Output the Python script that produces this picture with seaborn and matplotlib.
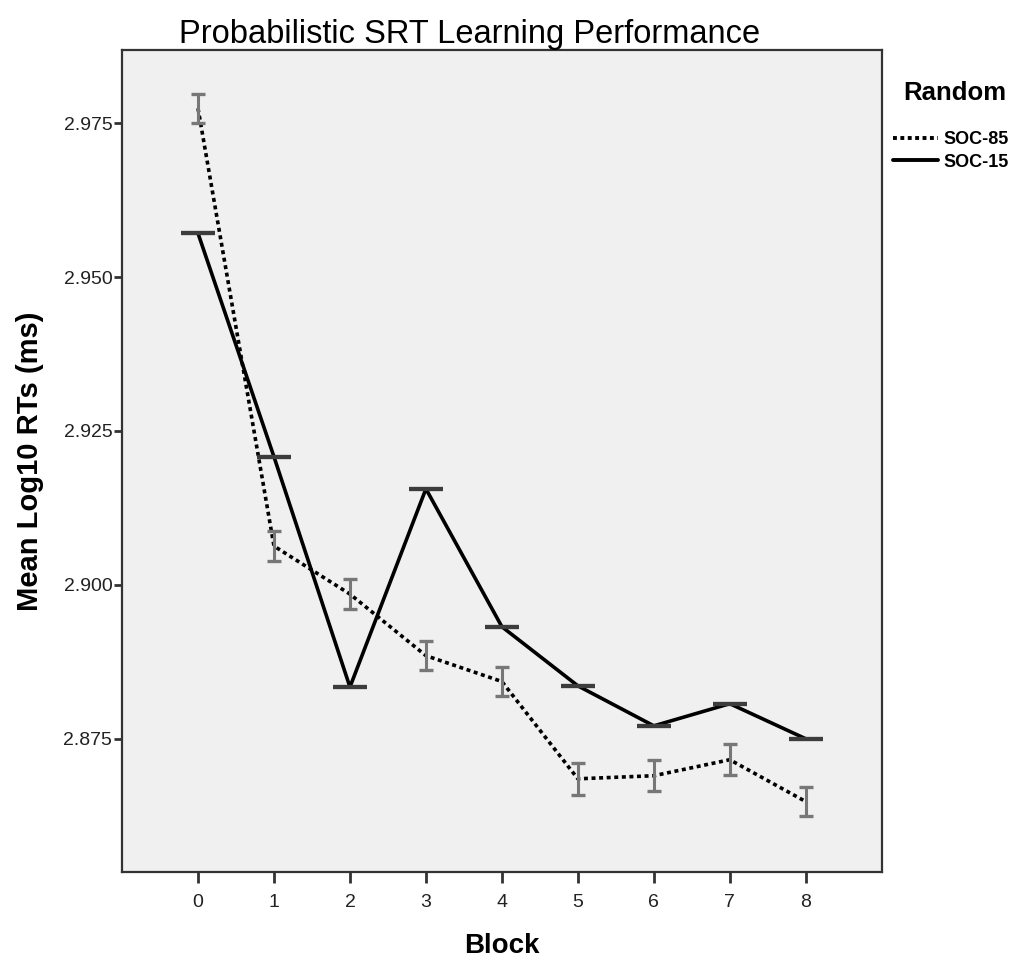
import numpy as np
import pandas as pd
import matplotlib
matplotlib.use("Agg")
import matplotlib.pyplot as plt
import seaborn as sns
from matplotlib.lines import Line2D

blocks = [0, 1, 2, 3, 4, 5, 6, 7, 8]
soc85_mean = [2.9774, 2.9063, 2.8985, 2.8885, 2.8843, 2.8685, 2.8690, 2.8716, 2.8648]
soc85_err = [0.0024, 0.0024, 0.0024, 0.0024, 0.0024, 0.0026, 0.0025, 0.0025, 0.0024]
soc15_mean = [2.9571, 2.9208, 2.8834, 2.9156, 2.8932, 2.8836, 2.8771, 2.8807, 2.8750]
soc15_err = [0, 0, 0, 0, 0, 0, 0, 0, 0]
groups = ["SOC-85", "SOC-15"]

df = pd.DataFrame({
    "Block": blocks * 2,
    "RT": soc85_mean + soc15_mean,
    "err": soc85_err + soc15_err,
    "Random": [groups[0]] * len(blocks) + [groups[1]] * len(blocks),
})

sns.set_style("white")
plt.rcParams['font.family'] = ['Liberation Sans', 'DejaVu Sans']
plt.rcParams['text.color'] = 'black'
plt.rcParams['axes.labelcolor'] = 'black'

fig = plt.figure(figsize=(10.17, 9.58), dpi=100)
ax = fig.add_axes([0.120, 0.090, 0.747, 0.858])
ax.set_facecolor("#f0f0f0")

sns.lineplot(data=df, x="Block", y="RT", style="Random", hue="Random",
             palette={"SOC-85": "black", "SOC-15": "black"},
             dashes={"SOC-85": (1.1, 1.0), "SOC-15": ""},
             linewidth=2.6, ax=ax, legend=False, zorder=3)

# error bars
d85 = df[df["Random"] == "SOC-85"]
d15 = df[df["Random"] == "SOC-15"]
ax.errorbar(d85["Block"], d85["RT"], yerr=d85["err"], fmt="none",
            ecolor="#777777", elinewidth=2.2, capsize=5, capthick=2.4, zorder=4)
ax.errorbar(d15["Block"], d15["RT"], yerr=d15["err"], fmt="none",
            ecolor="#3c3c3c", elinewidth=2.5, capsize=12.5, capthick=3.0, zorder=4)

ax.set_xlim(-1, 9)
ax.set_ylim(2.8534, 2.9869)
ax.set_xticks(blocks)
ax.set_xticklabels([str(b) for b in blocks])
ax.set_yticks([2.875, 2.900, 2.925, 2.950, 2.975])
ax.set_yticklabels(["2.875", "2.900", "2.925", "2.950", "2.975"])

for s in ax.spines.values():
    s.set_color("#333333")
    s.set_linewidth(1.6)
ax.tick_params(axis="x", direction="out", length=8, width=2, color="#333333",
               labelsize=14, labelcolor="#222222", pad=8, bottom=True)
ax.tick_params(axis="y", direction="out", length=6, width=2, color="#333333",
               labelsize=14, labelcolor="#222222", pad=1, left=True)

ax.set_xlabel("Block", fontsize=20, fontweight="bold", labelpad=16)
ax.set_ylabel("Mean Log10 RTs (ms)", fontsize=21, fontweight="bold", labelpad=14)
ax.set_title("Probabilistic SRT Learning Performance", fontsize=23.5, pad=5,
             x=0.457)

fig.text(903 / 1017, 1 - 93 / 958, "Random", fontsize=18.5, fontweight="bold",
         ha="left", va="center")

handles = [Line2D([0], [0], color="black", lw=2.8, linestyle=(0, (1.0, 0.9))),
           Line2D([0], [0], color="black", lw=2.8, linestyle="-")]
leg = ax.legend(handles, groups, loc="upper left",
                bbox_to_anchor=(893 / 1017, 1 - 131 / 958),
                bbox_transform=fig.transFigure, frameon=False, borderpad=0,
                borderaxespad=0,
                handlelength=2.5, handletextpad=0.3, labelspacing=0.32,
                prop={"size": 13, "weight": "bold"})

fig.savefig("out.png", dpi=100, facecolor="white")
